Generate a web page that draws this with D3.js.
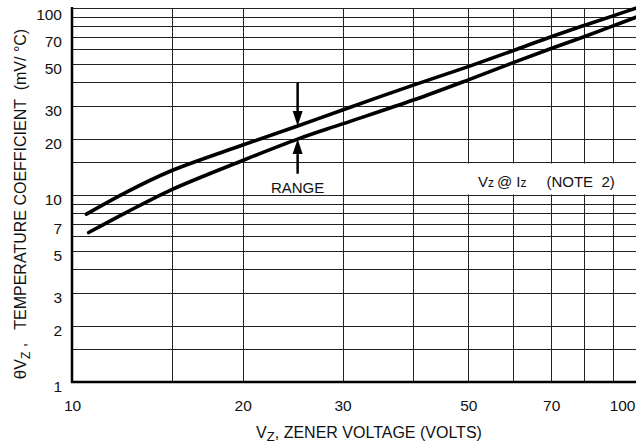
<!DOCTYPE html>
<html>
<head>
<meta charset="utf-8">
<script src="https://cdn.jsdelivr.net/npm/d3@7"></script>
<style>
  body { margin: 0; background: #fff; }
  svg { display: block; font-family: "Liberation Sans", Arial, sans-serif; }
  .grid line { stroke: #222; stroke-width: 1; shape-rendering: crispEdges; }
  .tick text { font-size: 15.5px; fill: #111; }
</style>
</head>
<body>
<svg id="grafico" width="636" height="444"></svg>
<script>
//zener voltage (V) and temperature coefficient (mV/°C), upper edge of the range
var upperVz = [10.6, 12.5, 14.9, 20, 25, 30, 40, 50, 60, 70, 80, 90, 100];
var upperTc = [7.9, 10.4, 13.4, 18.5, 23.4, 28.5, 38.7, 48.6, 59.2, 70.2, 80.6, 90.8, 101];

//lower edge of the range
var lowerVz = [10.7, 12.5, 14.9, 20, 25, 30, 40, 50, 60, 70, 80, 90, 100];
var lowerTc = [6.3, 8.1, 10.6, 15.3, 19.9, 24.0, 32.2, 41.3, 51.0, 60.7, 70.2, 80.2, 90.5];

//tick labels and grid lines
var xTicks = [10, 20, 30, 50, 70, 100];
var yTicks = [1, 2, 3, 5, 7, 10, 20, 30, 50, 70, 100];
var xGrid = [15, 20, 30, 40, 50, 60, 70, 80, 90, 100];
var yGrid = [1.5, 2, 3, 4, 5, 6, 7, 8, 9, 10, 15, 20, 30, 40, 50, 60, 70, 80, 90, 100];

//"RANGE" arrows: voltage where they sit, start and tip values
var rangeVz = 25;
var arrowDown = [40, 23.4];
var arrowUp = [13, 19.9];
var rangeLabelTc = 10.9;

//note box spans these values
var noteVz = [40, 100];
var noteTc = [10, 15];
var noteAt = [52, 11.0];

var svg = d3.select('#grafico');

var x = d3.scaleLog().domain([10, 100]).range([72, 639]);
var y = d3.scaleLog().domain([1, 100]).range([382, 8]);

//grid
var grid = svg.append('g').attr('class', 'grid');

grid.selectAll('.gx')
    .data(xGrid)
    .enter().append('line')
    .attr('class', 'gx')
    .attr('x1', function(d) { return Math.round(x(d)) + 0.5; })
    .attr('x2', function(d) { return Math.round(x(d)) + 0.5; })
    .attr('y1', y(100))
    .attr('y2', y(1));

grid.selectAll('.gy')
    .data(yGrid)
    .enter().append('line')
    .attr('class', 'gy')
    .attr('x1', x(10))
    .attr('x2', 636)
    .attr('y1', function(d) { return Math.round(y(d)) + 0.5; })
    .attr('y2', function(d) { return Math.round(y(d)) + 0.5; });

//white box that cuts the vertical lines behind the note
svg.append('rect')
    .attr('x', x(noteVz[0]) + 1.5)
    .attr('y', Math.round(y(noteTc[1])) + 1.5)
    .attr('width', 636 - x(noteVz[0]))
    .attr('height', Math.round(y(noteTc[0])) - Math.round(y(noteTc[1])) - 2)
    .style('fill', '#fff');

//axis frame
svg.append('line')
    .attr('x1', x(10)).attr('x2', x(10))
    .attr('y1', y(100) - 1).attr('y2', y(1) + 1)
    .style('stroke', '#000').style('stroke-width', 2.5);

svg.append('line')
    .attr('x1', x(10) - 1).attr('x2', 636)
    .attr('y1', y(1)).attr('y2', y(1))
    .style('stroke', '#000').style('stroke-width', 2.5);

//tick labels
var xAxis = svg.append('g')
    .attr('transform', 'translate(0,' + y(1) + ')')
    .call(d3.axisBottom(x).tickValues(xTicks).tickFormat(d3.format('d')).tickSize(0).tickPadding(18));
xAxis.select('.domain').remove();
xAxis.selectAll('.tick')
    .filter(function(d) { return d == 100; })
    .select('text')
    .style('text-anchor', 'end')
    .attr('dx', '-4');

var yAxis = svg.append('g')
    .attr('transform', 'translate(' + x(10) + ',0)')
    .call(d3.axisLeft(y).tickValues(yTicks).tickFormat(d3.format('d')).tickSize(0).tickPadding(10));
yAxis.select('.domain').remove();
yAxis.selectAll('.tick text').attr('dy', '0.6em');
yAxis.selectAll('.tick')
    .filter(function(d) { return d == 100; })
    .select('text')
    .attr('dy', '0.75em');

//curves
var linea = d3.line()
    .x(function(d) { return x(d[0]); })
    .y(function(d) { return y(d[1]); })
    .curve(d3.curveCatmullRom.alpha(0.5));

[[upperVz, upperTc], [lowerVz, lowerTc]].forEach(function(s) {
    svg.append('path')
        .datum(d3.zip(s[0], s[1]))
        .attr('d', linea)
        .style('fill', 'none')
        .style('stroke', '#000')
        .style('stroke-width', 3.6)
        .style('stroke-linecap', 'round');
});

//range arrows
function disegnaFreccia(da, a) {
    var px = x(rangeVz);
    var y0 = y(da), y1 = y(a);
    var dir = y1 > y0 ? 1 : -1;
    var head = 15;
    svg.append('line')
        .attr('x1', px).attr('x2', px)
        .attr('y1', y0).attr('y2', y1 - dir * head)
        .style('stroke', '#000').style('stroke-width', 2.5);
    svg.append('path')
        .attr('d', 'M' + (px - 5) + ',' + (y1 - dir * head) + 'L' + (px + 5) + ',' + (y1 - dir * head) + 'L' + px + ',' + y1 + 'Z')
        .style('fill', '#000');
}
disegnaFreccia(arrowDown[0], arrowDown[1]);
disegnaFreccia(arrowUp[0], arrowUp[1]);

svg.append('text')
    .attr('x', x(rangeVz))
    .attr('y', y(rangeLabelTc))
    .attr('dy', '.35em')
    .style('text-anchor', 'middle')
    .style('font-size', '15px')
    .style('fill', '#111')
    .text('RANGE');

//note
var nota = svg.append('text')
    .attr('x', x(noteAt[0]))
    .attr('y', y(noteAt[1]))
    .style('font-size', '15px')
    .style('fill', '#111');
nota.append('tspan').text('V');
nota.append('tspan').style('font-size', '12px').text('z');
nota.append('tspan').attr('dx', '3').text('@');
nota.append('tspan').attr('dx', '4').text('I');
nota.append('tspan').style('font-size', '12px').text('z');
nota.append('tspan').attr('dx', '20').text('(NOTE  2)').style('white-space', 'pre');

//axis titles
var titoloX = svg.append('text')
    .attr('x', 369)
    .attr('y', 438)
    .style('text-anchor', 'middle')
    .style('font-size', '16px')
    .style('fill', '#111');
titoloX.append('tspan').text('V');
titoloX.append('tspan').attr('dy', 3).style('font-size', '13px').text('Z');
titoloX.append('tspan').attr('dy', -3).text(', ZENER VOLTAGE (VOLTS)');

var titoloY = svg.append('text')
    .attr('transform', 'translate(26,204) rotate(-90)')
    .style('text-anchor', 'middle')
    .style('font-size', '16px')
    .style('fill', '#111')
    .style('white-space', 'pre');
titoloY.append('tspan').style('font-size', '17px').text('\u03B8');
titoloY.append('tspan').text('V');
titoloY.append('tspan').attr('dy', 4).style('font-size', '12px').text('Z');
titoloY.append('tspan').attr('dy', -4).text(' ,   TEMPERATURE COEFFICIENT  (mV/ \u00B0C)');
</script>
</body>
</html>
